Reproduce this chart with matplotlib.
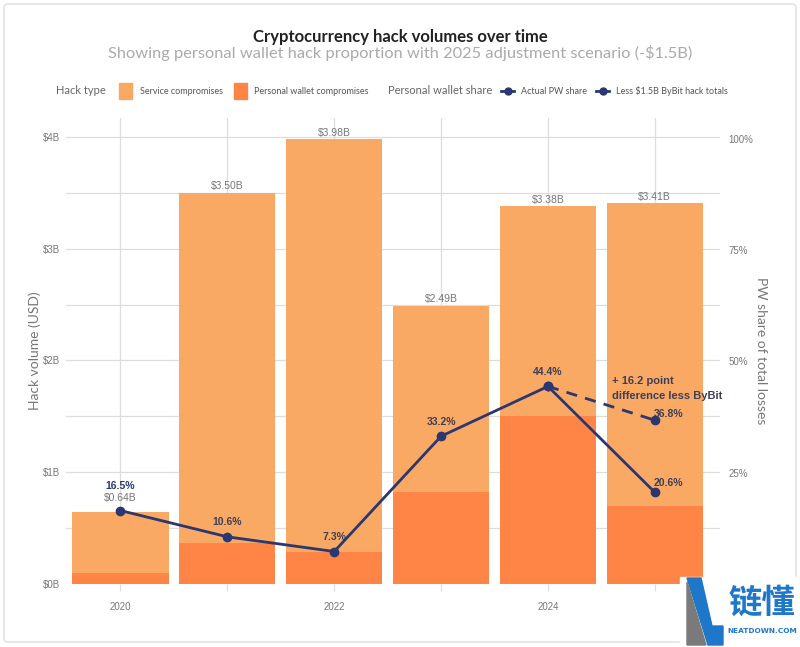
import matplotlib.pyplot as plt
from matplotlib.patches import Rectangle, FancyBboxPatch, Polygon
from matplotlib.lines import Line2D
import numpy as np

years = [2020, 2021, 2022, 2023, 2024, 2025]
total_vol = [0.64, 3.50, 3.98, 2.49, 3.38, 3.41]
pw_vol = [0.10, 0.37, 0.29, 0.82, 1.50, 0.70]
pw_share = [16.5, 10.6, 7.3, 33.2, 44.4, 20.6]
adj_years = [2024, 2025]
adj_share = [44.4, 36.8]

service_vol = [t - p for t, p in zip(total_vol, pw_vol)]

SERVICE = '#F9A964'
PERSONAL = '#FF8547'
NAVY = '#2B3770'
GRID = '#DDDDDD'
TICK = '#777777'

W, H = 800, 647
fig = plt.figure(figsize=(W / 100, H / 100), dpi=100)

def fx(px):
    return px / W

def fy(py):
    return 1 - py / H

# outer card border
fig.patches.append(FancyBboxPatch((fx(4), fy(642)), fx(792), 638 / H,
                                  boxstyle='round,pad=0,rounding_size=0.005',
                                  transform=fig.transFigure, fc='none',
                                  ec='#E3E3E3', lw=1.2, zorder=0))

ax = fig.add_axes([fx(66), fy(584), fx(720 - 66), (584 - 118) / H])
ax.set_facecolor('none')

ax.bar(years, pw_vol, width=0.9, color=PERSONAL, zorder=2)
ax.bar(years, service_vol, width=0.9, bottom=pw_vol, color=SERVICE, zorder=2)

for i, (yr, tot) in enumerate(zip(years, total_vol)):
    off = 7 if i == 0 else 1
    ax.annotate(f'${tot:.2f}B', (yr, tot), xytext=(0, off), textcoords='offset points',
                ha='center', va='bottom', fontsize=7.5, color='#777777',
                family='Liberation Sans')

ax.set_xlim(2019.49, 2025.61)
ax.set_ylim(0, 4.17)
ax.set_yticks(np.arange(0, 4.01, 0.5))
ax.set_yticklabels([f'${int(v)}B' if v == int(v) else '' for v in np.arange(0, 4.01, 0.5)])
ax.set_xticks(years)
ax.set_xticklabels([str(y) if y % 2 == 0 else '' for y in years])
ax.grid(True, color=GRID, lw=0.9, zorder=0)
ax.set_axisbelow(True)
for s in ax.spines.values():
    s.set_visible(False)
ax.tick_params(axis='both', colors=GRID, labelcolor=TICK, labelsize=7,
               length=5, width=0.9)
ax.tick_params(axis='x', pad=8)
ax.tick_params(axis='y', length=0, pad=4)
for lbl in ax.get_xticklabels() + ax.get_yticklabels():
    lbl.set_family('Liberation Sans')
ax.set_ylabel('Hack volume (USD)', color='#777777', fontsize=10, family='Lato',
              labelpad=2)

ax2 = ax.twinx()
ax2.set_ylim(0, 104.7)
ax2.set_yticks([25, 50, 75, 100])
ax2.set_yticklabels(['25%', '50%', '75%', '100%'])
for s in ax2.spines.values():
    s.set_visible(False)
ax2.tick_params(axis='y', colors=GRID, labelcolor=TICK, labelsize=7, length=0, pad=6)
for lbl in ax2.get_yticklabels():
    lbl.set_family('Liberation Sans')
ax2.set_ylabel('PW share of total losses', color='#777777', fontsize=10,
               family='Lato', rotation=270, labelpad=10)

ax2.plot(adj_years, adj_share, color=NAVY, lw=2, ls=(0, (4, 3)), marker='o',
         ms=6, zorder=4)
ax2.plot(years, pw_share, color=NAVY, lw=2, marker='o', ms=6, zorder=5)

for i, (yr, v) in enumerate(zip(years, pw_share)):
    if i == 0:
        ax2.annotate(f'{v}%', (yr, v), xytext=(0, 14), textcoords='offset points',
                     ha='center', va='bottom', fontsize=7.5, fontweight='bold',
                     color=NAVY, family='Liberation Sans')
    elif yr == 2025:
        ax2.annotate(f'{v}%', (yr, v), xytext=(10, 3), textcoords='offset points',
                     ha='center', va='bottom', fontsize=7.5, fontweight='bold',
                     color='#3C3F55', family='Liberation Sans')
    else:
        ax2.annotate(f'{v}%', (yr, v), xytext=(0, 7), textcoords='offset points',
                     ha='center', va='bottom', fontsize=7.5, fontweight='bold',
                     color='#3C3F55', family='Liberation Sans')
ax2.annotate(f'{adj_share[1]}%', (adj_years[1], adj_share[1]), xytext=(10, 1),
             textcoords='offset points', ha='center', va='bottom', fontsize=7.5,
             fontweight='bold', color='#3C3F55', family='Liberation Sans')
ax2.annotate('+ 16.2 point\ndifference less ByBit', (adj_years[1], adj_share[1]),
             xytext=(-31, 14), textcoords='offset points', ha='left', va='bottom',
             fontsize=8, fontweight='bold', color='#3C3F55', linespacing=1.6,
             family='Liberation Sans')

# titles
fig.text(0.5, fy(37), 'Cryptocurrency hack volumes over time', ha='center',
         va='center', fontsize=12, fontweight='bold', color='#222222', family='Lato')
fig.text(0.5, fy(53), 'Showing personal wallet hack proportion with 2025 adjustment scenario (-$1.5B)',
         ha='center', va='center', fontsize=11.8, color='#AAAAAA', family='Lato')

# legend row
ly = fy(91)
fig.text(fx(56), ly, 'Hack type', ha='left', va='center', fontsize=8,
         color='#666666', family='Lato')
fig.patches.append(Rectangle((fx(119), fy(99)), fx(13), 16 / H, color=SERVICE,
                             transform=fig.transFigure))
fig.text(fx(140), ly, 'Service compromises', ha='left', va='center', fontsize=6.5,
         color='#555555', family='Lato')
fig.patches.append(Rectangle((fx(234), fy(99)), fx(13), 16 / H, color=PERSONAL,
                             transform=fig.transFigure))
fig.text(fx(254), ly, 'Personal wallet compromises', ha='left', va='center',
         fontsize=6.5, color='#555555', family='Lato')
fig.text(fx(388), ly, 'Personal wallet share', ha='left', va='center', fontsize=8,
         color='#666666', family='Lato')
for x0, txt in [(501, 'Actual PW share'), (596, 'Less $1.5B ByBit hack totals')]:
    fig.lines.append(Line2D([fx(x0), fx(x0 + 13)], [ly, ly], color=NAVY, lw=2,
                            transform=fig.transFigure))
    fig.lines.append(Line2D([fx(x0 + 6.5)], [ly], color=NAVY, marker='o', ms=5,
                            transform=fig.transFigure))
    fig.text(fx(x0 + 20), ly, txt, ha='left', va='center', fontsize=6.5,
             color='#555555', family='Lato')

# watermark
BLUE = '#1F77C9'
fig.patches.append(Rectangle((fx(680), 0), fx(120), 70 / H, color='white',
                             transform=fig.transFigure, zorder=10))
fig.patches.append(Polygon([(fx(687), fy(578)), (fx(701), fy(578)), (fx(712), fy(626)),
                            (fx(723), fy(626)), (fx(723), fy(645)), (fx(708), fy(645))],
                           closed=True, color=BLUE, transform=fig.transFigure, zorder=11))
fig.patches.append(Polygon([(fx(687), fy(582)), (fx(706), fy(645)), (fx(687), fy(645))],
                           closed=True, color='#7A7A7A',
                           transform=fig.transFigure, zorder=11))
fig.text(fx(762), fy(603), '链懂', ha='center', va='center', fontsize=24,
         fontweight='bold', color=BLUE, family='Noto Sans CJK SC', zorder=12)
fig.text(fx(762), fy(631), 'NEATDOWN.COM', ha='center', va='center', fontsize=5.3,
         fontweight='bold', color=BLUE, family='DejaVu Sans', zorder=12)

fig.savefig('out.png', dpi=100)
